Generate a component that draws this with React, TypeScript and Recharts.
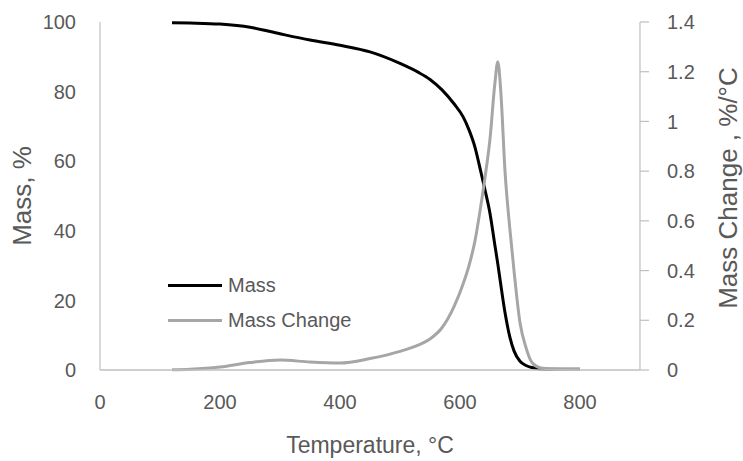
import React from "react";
import { ComposedChart, Line, XAxis, YAxis, Legend, Label } from "recharts";

const temperatures = [120, 150, 200, 250, 300, 350, 400, 450, 500, 530, 550, 570, 590, 605, 615, 625, 634, 642, 650, 658, 663, 668, 675, 683, 690, 700, 710, 720, 735, 760, 800];
const massValues = [99.8, 99.7, 99.4, 98.5, 96.6, 94.8, 93.3, 91.4, 88.1, 85.6, 83.5, 80.5, 76.5, 72.8, 69, 64, 57.5, 51.5, 45, 36, 30.5, 24.5, 16.5, 9.5, 5.5, 2.5, 1.3, 0.7, 0.3, 0.2, 0.2];
const massChangeValues = [0.001, 0.003, 0.012, 0.03, 0.04, 0.032, 0.028, 0.046, 0.075, 0.1, 0.125, 0.17, 0.255, 0.345, 0.42, 0.52, 0.65, 0.78, 0.93, 1.15, 1.24, 1.12, 0.8, 0.57, 0.4, 0.19, 0.09, 0.03, 0.008, 0.003, 0.002];

const xTicks = [0, 200, 400, 600, 800];
const leftTicks = [0, 20, 40, 60, 80, 100];
const rightTicks = [0, 0.2, 0.4, 0.6, 0.8, 1, 1.2, 1.4];

const data = temperatures.map((t, i) => ({ t, mass: massValues[i], change: massChangeValues[i] }));

const FONT = "'Liberation Sans', Arial, sans-serif";
const TEXT = "#595959";
const AXIS = "#bfbfbf";

const tickStyle = { fill: TEXT, fontSize: 20, fontFamily: FONT };

const LeftTitle = (props: any) => {
  const vb = props.viewBox;
  const cy = vb.y + vb.height / 2;
  const cx = 22;
  return (
    <text x={cx} y={cy} transform={`rotate(-90 ${cx} ${cy})`} textAnchor="middle" dominantBaseline="central" fill={TEXT} fontSize={26} fontFamily={FONT}>
      Mass, %
    </text>
  );
};

const RightTitle = (props: any) => {
  const vb = props.viewBox;
  const cy = vb.y + vb.height / 2 - 8;
  const cx = 728;
  return (
    <text x={cx} y={cy} transform={`rotate(-90 ${cx} ${cy})`} textAnchor="middle" dominantBaseline="central" fill={TEXT} fontSize={26} fontFamily={FONT}>
      Mass Change , %/°C
    </text>
  );
};

const BottomTitle = (props: any) => {
  const vb = props.viewBox;
  const cx = vb.x + vb.width / 2;
  return (
    <text x={cx} y={445} textAnchor="middle" dominantBaseline="central" fill={TEXT} fontSize={23} fontFamily={FONT}>
      Temperature, °C
    </text>
  );
};

const legendItems = [
  { name: "Mass", color: "#000000" },
  { name: "Mass Change", color: "#a6a6a6" },
];

const renderLegend = () => (
  <div style={{ fontFamily: FONT, fontSize: 20, color: TEXT }}>
    {legendItems.map((it) => (
      <div key={it.name} style={{ display: "flex", alignItems: "center", height: 35 }}>
        <div style={{ width: 54, height: 3, background: it.color, marginRight: 6 }} />
        <span>{it.name}</span>
      </div>
    ))}
  </div>
);

export default function App() {
  return (
    <div style={{ position: "absolute", left: 0, top: 0, background: "#fff" }}>
      <ComposedChart width={743} height={461} data={data} margin={{ top: 22, right: 0, bottom: 0, left: 0 }}>
        <XAxis
          dataKey="t"
          type="number"
          domain={[0, 900]}
          ticks={xTicks}
          height={91}
          axisLine={{ stroke: AXIS, strokeWidth: 1.5 }}
          tickLine={false}
          tickSize={0}
          tickMargin={25}
          tick={tickStyle}
        >
          <Label content={BottomTitle} />
        </XAxis>
        <YAxis
          yAxisId="left"
          orientation="left"
          domain={[0, 100]}
          ticks={leftTicks}
          width={100}
          axisLine={{ stroke: AXIS, strokeWidth: 1.2 }}
          tickLine={false}
          tickSize={0}
          tickMargin={24}
          tick={tickStyle}
        >
          <Label content={LeftTitle} />
        </YAxis>
        <YAxis
          yAxisId="right"
          orientation="right"
          domain={[0, 1.4]}
          ticks={rightTicks}
          width={103}
          axisLine={{ stroke: AXIS, strokeWidth: 1.2 }}
          tickLine={{ stroke: AXIS, strokeWidth: 1.2 }}
          tickSize={9}
          tickMargin={18}
          tick={tickStyle}
        >
          <Label content={RightTitle} />
        </YAxis>
        <Legend
          layout="vertical"
          align="center"
          verticalAlign="middle"
          wrapperStyle={{ left: 168, top: 268, width: 200 }}
          content={renderLegend}
        />
        <Line yAxisId="left" type="monotone" dataKey="mass" name="Mass" stroke="#000000" strokeWidth={3} dot={false} isAnimationActive={false} />
        <Line yAxisId="right" type="monotone" dataKey="change" name="Mass Change" stroke="#a6a6a6" strokeWidth={3} dot={false} isAnimationActive={false} />
      </ComposedChart>
    </div>
  );
}
